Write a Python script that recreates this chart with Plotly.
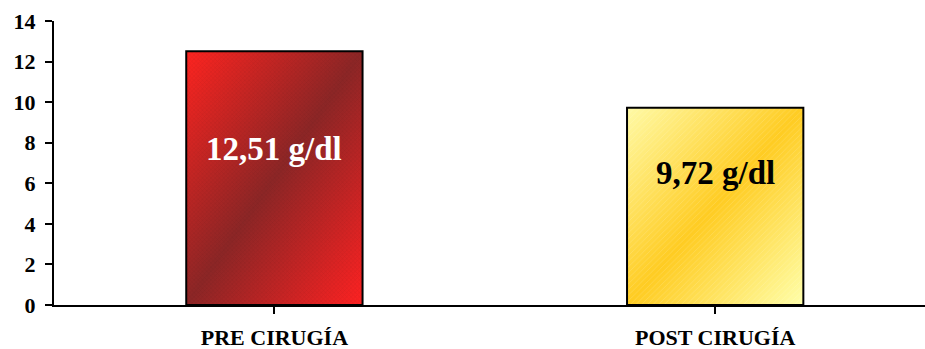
import base64
import plotly.graph_objects as go

# Hemoglobin before / after surgery (g/dl)
categories = ["PRE CIRUGÍA", "POST CIRUGÍA"]
values = [12.51, 9.72]
y_ticks = [0, 2, 4, 6, 8, 10, 12, 14]

# Diagonal gradient stops for each bar: corner, centre, corner
gradients = [
    ("#ff2420", "#8c2626", "#ff2222"),
    ("#fffaa6", "#ffcc22", "#ffffaa"),
]
label_colors = ["white", "black"]
label_pos = [0.615, 0.672]   # label height as a fraction of the bar value
patterns = [
    dict(shape="x", size=3, solidity=0.3, fgcolor="rgba(0,0,0,0.14)", fillmode="overlay"),
    dict(shape="/", size=4, solidity=0.2, fgcolor="rgba(255,255,255,0.35)", fillmode="overlay"),
]

SERIF = "Liberation Serif, Times New Roman, serif"
BAR_WIDTH = 0.4


def gradient_uri(c0, c1, c2):
    svg = (
        "<svg xmlns='http://www.w3.org/2000/svg' width='100' height='100' "
        "viewBox='0 0 100 100' preserveAspectRatio='none'>"
        "<defs><linearGradient id='g' x1='0' y1='0' x2='1' y2='1'>"
        f"<stop offset='0' stop-color='{c0}'/>"
        f"<stop offset='0.5' stop-color='{c1}'/>"
        f"<stop offset='1' stop-color='{c2}'/>"
        "</linearGradient></defs>"
        "<rect width='100' height='100' fill='url(#g)'/></svg>"
    )
    return "data:image/svg+xml;base64," + base64.b64encode(svg.encode()).decode()


fig = go.Figure()

# Outlined bars with a light texture; gradient fills sit underneath as images
for i, (cat, val) in enumerate(zip(categories, values)):
    fig.add_trace(go.Bar(
        x=[i], y=[val], width=BAR_WIDTH,
        marker=dict(color="rgba(0,0,0,0)", pattern=patterns[i],
                    line=dict(color="black", width=2)),
        hoverinfo="skip", showlegend=False,
    ))
    fig.add_layout_image(
        source=gradient_uri(*gradients[i]),
        xref="x", yref="y", x=i - BAR_WIDTH / 2, y=val,
        sizex=BAR_WIDTH, sizey=val, sizing="stretch",
        xanchor="left", yanchor="top", layer="below",
    )
    fig.add_annotation(
        x=i, y=val * label_pos[i], xref="x", yref="y",
        text=f"<b>{val:.2f}".replace(".", ",") + " g/dl</b>",
        showarrow=False,
        font=dict(family=SERIF, size=33, color=label_colors[i]),
    )

fig.update_layout(
    width=925, height=349,
    margin=dict(l=54, r=0, t=21, b=44),
    paper_bgcolor="white", plot_bgcolor="rgba(0,0,0,0)",
    showlegend=False,
)

fig.update_xaxes(
    range=[-0.5, 1.476],
    tickmode="array", tickvals=[0, 1], ticktext=[f"<b>{c}</b>" for c in categories],
    showline=True, linecolor="black", linewidth=2,
    ticks="outside", tickson="boundaries", ticklen=7, tickwidth=2, tickcolor="black",
    ticklabelstandoff=5,
    showgrid=False, zeroline=False,
    tickfont=dict(family=SERIF, size=22, color="black"),
)
fig.update_yaxes(
    range=[0, 14],
    tickmode="array", tickvals=y_ticks, ticktext=[f"<b>{t}</b>" for t in y_ticks],
    showline=True, linecolor="black", linewidth=2,
    ticks="outside", ticklen=7, tickwidth=2, tickcolor="black",
    ticklabelstandoff=5,
    showgrid=False, zeroline=False,
    tickfont=dict(family=SERIF, size=22, color="black"),
)

fig.write_html("out.html")
